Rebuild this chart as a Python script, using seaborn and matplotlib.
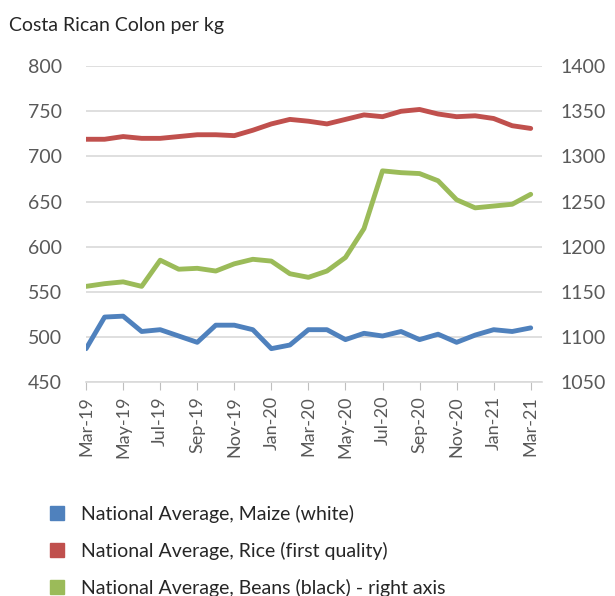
import pandas as pd
import numpy as np
import seaborn as sns
import matplotlib.pyplot as plt
from matplotlib.lines import Line2D

# data (Mar-19 .. Mar-21, monthly)
months = ['Mar-19', 'Apr-19', 'May-19', 'Jun-19', 'Jul-19', 'Aug-19', 'Sep-19',
          'Oct-19', 'Nov-19', 'Dec-19', 'Jan-20', 'Feb-20', 'Mar-20', 'Apr-20',
          'May-20', 'Jun-20', 'Jul-20', 'Aug-20', 'Sep-20', 'Oct-20', 'Nov-20',
          'Dec-20', 'Jan-21', 'Feb-21', 'Mar-21']
maize = [487, 522, 523, 506, 508, 501, 494, 513, 513, 508, 487, 491, 508,
         508, 497, 504, 501, 506, 497, 503, 494, 502, 508, 506, 510]
rice = [719, 719, 722, 720, 720, 722, 724, 724, 723, 729, 736, 741, 739,
        736, 741, 746, 744, 750, 752, 747, 744, 745, 742, 734, 731]
beans = [1156, 1159, 1161, 1156, 1185, 1175, 1176, 1173, 1181, 1186, 1184,
         1170, 1166, 1173, 1188, 1220, 1284, 1282, 1281, 1273, 1252, 1243,
         1245, 1247, 1258]

legend_text = ['National Average, Maize (white)',
               'National Average, Rice (first quality)',
               'National Average, Beans (black) - right axis']
colors = ['#4F81BD', '#C0504D', '#9BBB59']

df = pd.DataFrame({'pos': np.arange(len(months)), 'month': months,
                   'Maize': maize, 'Rice': rice, 'Beans': beans})

sns.set_style('white')
plt.rcParams['font.family'] = ['Lato', 'DejaVu Sans']
grey = '#595959'

fig = plt.figure(figsize=(6.15, 5.96), dpi=100)
ax = fig.add_axes([0.140, 0.359, 0.741, 0.530])
ax2 = ax.twinx()

sns.lineplot(data=df, x='pos', y='Maize', ax=ax, color=colors[0], linewidth=3.5)
sns.lineplot(data=df, x='pos', y='Rice', ax=ax, color=colors[1], linewidth=3.5)
sns.lineplot(data=df, x='pos', y='Beans', ax=ax2, color=colors[2], linewidth=3.5)

ax.set_ylim(450, 800)
ax.set_yticks(range(450, 801, 50))
ax2.set_ylim(1050, 1400)
ax2.set_yticks(range(1050, 1401, 50))
ax.set_xlim(0, 24.6)
ax.set_xticks(df['pos'][::2])
ax.set_xticklabels(df['month'][::2], rotation=90)

ax.grid(axis='y', color='#d9d9d9', linewidth=1.2)
ax.set_axisbelow(True)
for a in (ax, ax2):
    for s in a.spines.values():
        s.set_visible(False)
    a.set_xlabel('')
    a.set_ylabel('')
ax.spines['bottom'].set_visible(True)
ax.spines['bottom'].set_color('#d9d9d9')
ax.spines['bottom'].set_linewidth(1.2)

ax.tick_params(axis='x', bottom=True, length=6, color='#bfbfbf', labelsize=13,
               labelcolor=grey, pad=4)
ax.tick_params(axis='y', left=False, labelsize=14, labelcolor=grey, pad=14)
ax2.tick_params(axis='y', right=False, labelsize=14, labelcolor=grey, pad=10)

fig.text(0.015, 0.958, 'Costa Rican Colon per kg', fontsize=14,
         color='#262626', va='center')

handles = [Line2D([], [], marker='s', linestyle='none', markersize=10,
                  markerfacecolor=c, markeredgecolor=c) for c in colors]
fig.legend(handles, legend_text, loc='upper left', bbox_to_anchor=(0.049, 0.166),
           frameon=False, fontsize=14, labelspacing=0.98, handletextpad=0.2,
           labelcolor='#262626', borderaxespad=0)

fig.savefig('out.png', dpi=100)
